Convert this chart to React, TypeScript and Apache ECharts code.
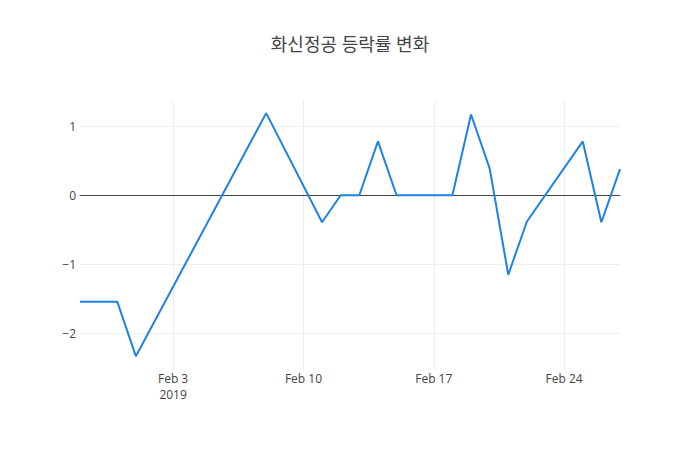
import React, { useEffect, useRef } from 'react';
import * as echarts from 'echarts';
import type { EChartsOption } from 'echarts';

// trading days and daily change (%)
const dates = [
  '2019-01-29', '2019-01-30', '2019-01-31', '2019-02-01', '2019-02-08',
  '2019-02-11', '2019-02-12', '2019-02-13', '2019-02-14', '2019-02-15',
  '2019-02-18', '2019-02-19', '2019-02-20', '2019-02-21', '2019-02-22',
  '2019-02-25', '2019-02-26', '2019-02-27',
];
const changes = [
  -1.54, -1.54, -1.54, -2.33, 1.19,
  -0.39, 0, 0, 0.78, 0,
  0, 1.17, 0.39, -1.15, -0.38,
  0.78, -0.39, 0.38,
];

const xTickDates = ['2019-02-03', '2019-02-10', '2019-02-17', '2019-02-24'];
const xTickLabels = ['Feb 3\n2019', 'Feb 10', 'Feb 17', 'Feb 24'];
const yTicks = [-2, -1, 0, 1];

const ts = (d: string) => new Date(d + 'T00:00:00').getTime();

const App: React.FC = () => {
  const chartRef = useRef<HTMLDivElement>(null);

  useEffect(() => {
    document.body.style.margin = '0';
    if (!chartRef.current) return;
    const chart = echarts.init(chartRef.current, undefined, { renderer: 'svg' });
    const tickTs = xTickDates.map(ts);

    const option: EChartsOption = {
      animation: false,
      backgroundColor: '#fff',
      textStyle: { fontFamily: '"Open Sans", "Noto Sans CJK KR", sans-serif' },
      title: {
        text: '화신정공 등락률 변화',
        left: 'center',
        top: 30,
        textStyle: { fontSize: 18, fontWeight: 'normal', color: '#444' },
      },
      grid: { left: 80, right: 80, top: 100, bottom: 80 },
      xAxis: {
        type: 'value',
        min: ts(dates[0]),
        max: ts(dates[dates.length - 1]),
        axisLine: { show: true, onZero: true, lineStyle: { color: '#444', width: 1 } },
        axisTick: { show: false, customValues: tickTs },
        axisLabel: {
          customValues: tickTs,
          color: '#444',
          fontSize: 12,
          margin: 0,
          lineHeight: 16,
          formatter: (v: number) => xTickLabels[tickTs.indexOf(v)] ?? '',
        },
        splitLine: { show: true, lineStyle: { color: '#eee', width: 1 } },
      },
      yAxis: {
        type: 'value',
        min: -2.53,
        max: 1.38,
        axisLine: { show: false },
        axisTick: { show: false, customValues: yTicks },
        axisLabel: {
          customValues: yTicks,
          color: '#444',
          fontSize: 12,
          margin: 4,
          formatter: (v: number) => String(v).replace('-', '\u2212'),
        },
        splitLine: { show: true, lineStyle: { color: '#eee', width: 1 } },
      },
      series: [
        {
          type: 'line',
          data: dates.map((d, i) => [ts(d), changes[i]]),
          showSymbol: false,
          lineStyle: { color: '#1c83e6', width: 2 },
          itemStyle: { color: '#1c83e6' },
        },
      ],
    };

    chart.setOption(option);
    return () => chart.dispose();
  }, []);

  return <div ref={chartRef} style={{ width: 700, height: 450 }} />;
};

export default App;
